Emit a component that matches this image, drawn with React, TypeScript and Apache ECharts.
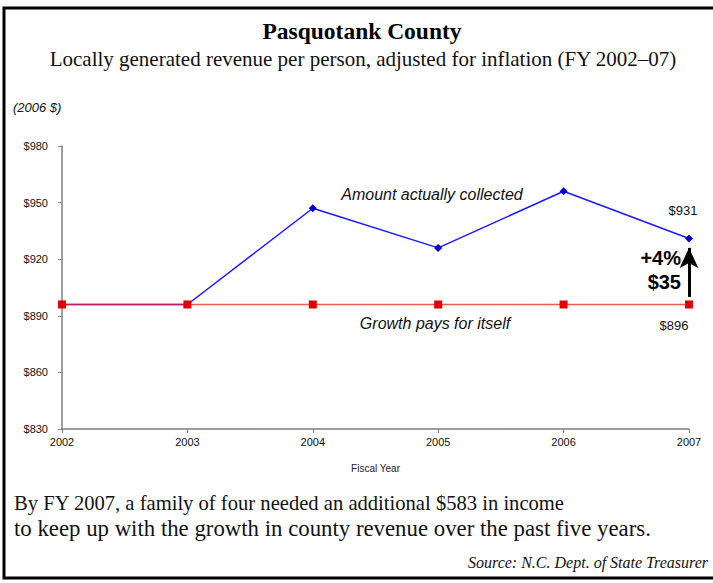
import React, { useEffect, useRef } from "react";
import * as echarts from "echarts";

const years = ["2002", "2003", "2004", "2005", "2006", "2007"];
const collected = [896, 896, 947, 926, 956, 931];
const growthPays = [896, 896, 896, 896, 896, 896];
const yMin = 830;
const yMax = 980;
const yStep = 30;
const arrowFrom = 900;
const arrowTo = 926;

const SERIF = "'Liberation Serif', 'DejaVu Serif', serif";
const SANS = "'Liberation Sans', Arial, sans-serif";

export default function App() {
  const ref = useRef<HTMLDivElement>(null);
  useEffect(() => {
    if (!ref.current) return;
    const chart = echarts.init(ref.current, null, { renderer: "svg" });
    const last = years.length - 1;
    const option: any = {
      animation: false,
      backgroundColor: "#ffffff",
      grid: { left: 62, right: 24, top: 146, bottom: 154, containLabel: false },
      xAxis: {
        type: "category",
        data: years,
        boundaryGap: false,
        name: "Fiscal Year",
        nameLocation: "middle",
        nameGap: 34,
        nameTextStyle: { fontFamily: SANS, fontSize: 10, color: "#222" },
        axisLine: { lineStyle: { color: "#7f7f7f", width: 1.5 } },
        axisTick: { show: true, length: 4, alignWithLabel: true, lineStyle: { color: "#7f7f7f" } },
        axisLabel: { fontFamily: SANS, fontSize: 11, color: "#111", margin: 7 },
        splitLine: { show: false },
      },
      yAxis: {
        type: "value",
        min: yMin,
        max: yMax,
        interval: yStep,
        axisLine: { show: true, lineStyle: { color: "#7f7f7f", width: 1.5 } },
        axisTick: { show: true, length: 4, lineStyle: { color: "#7f7f7f" } },
        axisLabel: { fontFamily: SANS, fontSize: 11, color: "#111", margin: 14, formatter: (v: number) => "$" + v },
        splitLine: { show: false },
      },
      series: [
        {
          type: "line",
          data: collected.map((v, i) =>
            i === last
              ? {
                  value: v,
                  label: {
                    show: true,
                    position: "top",
                    offset: [-6, -12],
                    formatter: (p: any) => "$" + p.value,
                    fontFamily: SANS,
                    fontSize: 13,
                    color: "#111",
                  },
                }
              : v
          ),
          symbol: "diamond",
          symbolSize: 8,
          lineStyle: { color: "#1a1aff", width: 1.5 },
          itemStyle: { color: "#0000cc" },
          z: 2,
          markLine: {
            silent: true,
            symbol: ["none", "arrow"],
            symbolSize: [14, 20],
            label: { show: false },
            lineStyle: { color: "#000", width: 3, type: "solid" },
            data: [[{ coord: [years[last], arrowFrom] }, { coord: [years[last], arrowTo] }]],
          },
        },
        {
          type: "line",
          data: growthPays.map((v, i) =>
            i === last
              ? {
                  value: v,
                  label: {
                    show: true,
                    position: "bottom",
                    offset: [-15, 6],
                    formatter: (p: any) => "$" + p.value,
                    fontFamily: SANS,
                    fontSize: 13,
                    color: "#111",
                  },
                }
              : v
          ),
          symbol: "rect",
          symbolSize: 8,
          lineStyle: { color: "#e22", width: 1.5, opacity: 0.75 },
          itemStyle: { color: "#e00000" },
          z: 3,
        },
      ],
      graphic: [
        {
          type: "rect",
          shape: { x: 4, y: 8, width: 740, height: 570 },
          style: { fill: "none", stroke: "#000", lineWidth: 3 },
          silent: true,
          z: 10,
        },
        {
          type: "text",
          x: 362,
          y: 31,
          style: { text: "Pasquotank County", fontFamily: SERIF, fontWeight: "bold", fontSize: 23.5, fill: "#000", textAlign: "center", textVerticalAlign: "middle" },
        },
        {
          type: "text",
          x: 363,
          y: 59,
          style: { text: "Locally generated revenue per person, adjusted for inflation (FY 2002\u201307)", fontFamily: SERIF, fontSize: 21, fill: "#111", textAlign: "center", textVerticalAlign: "middle" },
        },
        {
          type: "text",
          x: 13,
          y: 107,
          style: { text: "(2006 $)", fontFamily: SANS, fontStyle: "italic", fontSize: 13, fill: "#111", textAlign: "left", textVerticalAlign: "middle" },
        },
        {
          type: "text",
          x: 432,
          y: 194,
          style: { text: "Amount actually collected", fontFamily: SANS, fontStyle: "italic", fontSize: 16, fill: "#111", textAlign: "center", textVerticalAlign: "middle" },
        },
        {
          type: "text",
          x: 435,
          y: 323,
          style: { text: "Growth pays for itself", fontFamily: SANS, fontStyle: "italic", fontSize: 16, fill: "#111", textAlign: "center", textVerticalAlign: "middle" },
        },
        {
          type: "text",
          x: 681,
          y: 258,
          style: { text: "+4%", fontFamily: SANS, fontWeight: "bold", fontSize: 20, fill: "#000", textAlign: "right", textVerticalAlign: "middle" },
        },
        {
          type: "text",
          x: 681,
          y: 282,
          style: { text: "$35", fontFamily: SANS, fontWeight: "bold", fontSize: 20, fill: "#000", textAlign: "right", textVerticalAlign: "middle" },
        },
        {
          type: "text",
          x: 14,
          y: 503,
          style: { text: "By FY 2007, a family of four needed an additional $583 in income", fontFamily: SERIF, fontSize: 20.6, fill: "#111", textAlign: "left", textVerticalAlign: "middle" },
        },
        {
          type: "text",
          x: 14,
          y: 528,
          style: { text: "to keep up with the growth in county revenue over the past five years.", fontFamily: SERIF, fontSize: 22.8, fill: "#111", textAlign: "left", textVerticalAlign: "middle" },
        },
        {
          type: "text",
          x: 708,
          y: 562,
          style: { text: "Source: N.C. Dept. of State Treasurer", fontFamily: SERIF, fontStyle: "italic", fontSize: 16, fill: "#111", textAlign: "right", textVerticalAlign: "middle" },
        },
      ],
    };
    chart.setOption(option);
    return () => chart.dispose();
  }, []);
  return (
    <div
      ref={ref}
      style={{ position: "fixed", left: 0, top: 0, width: 713, height: 583, background: "#fff" }}
    />
  );
}
